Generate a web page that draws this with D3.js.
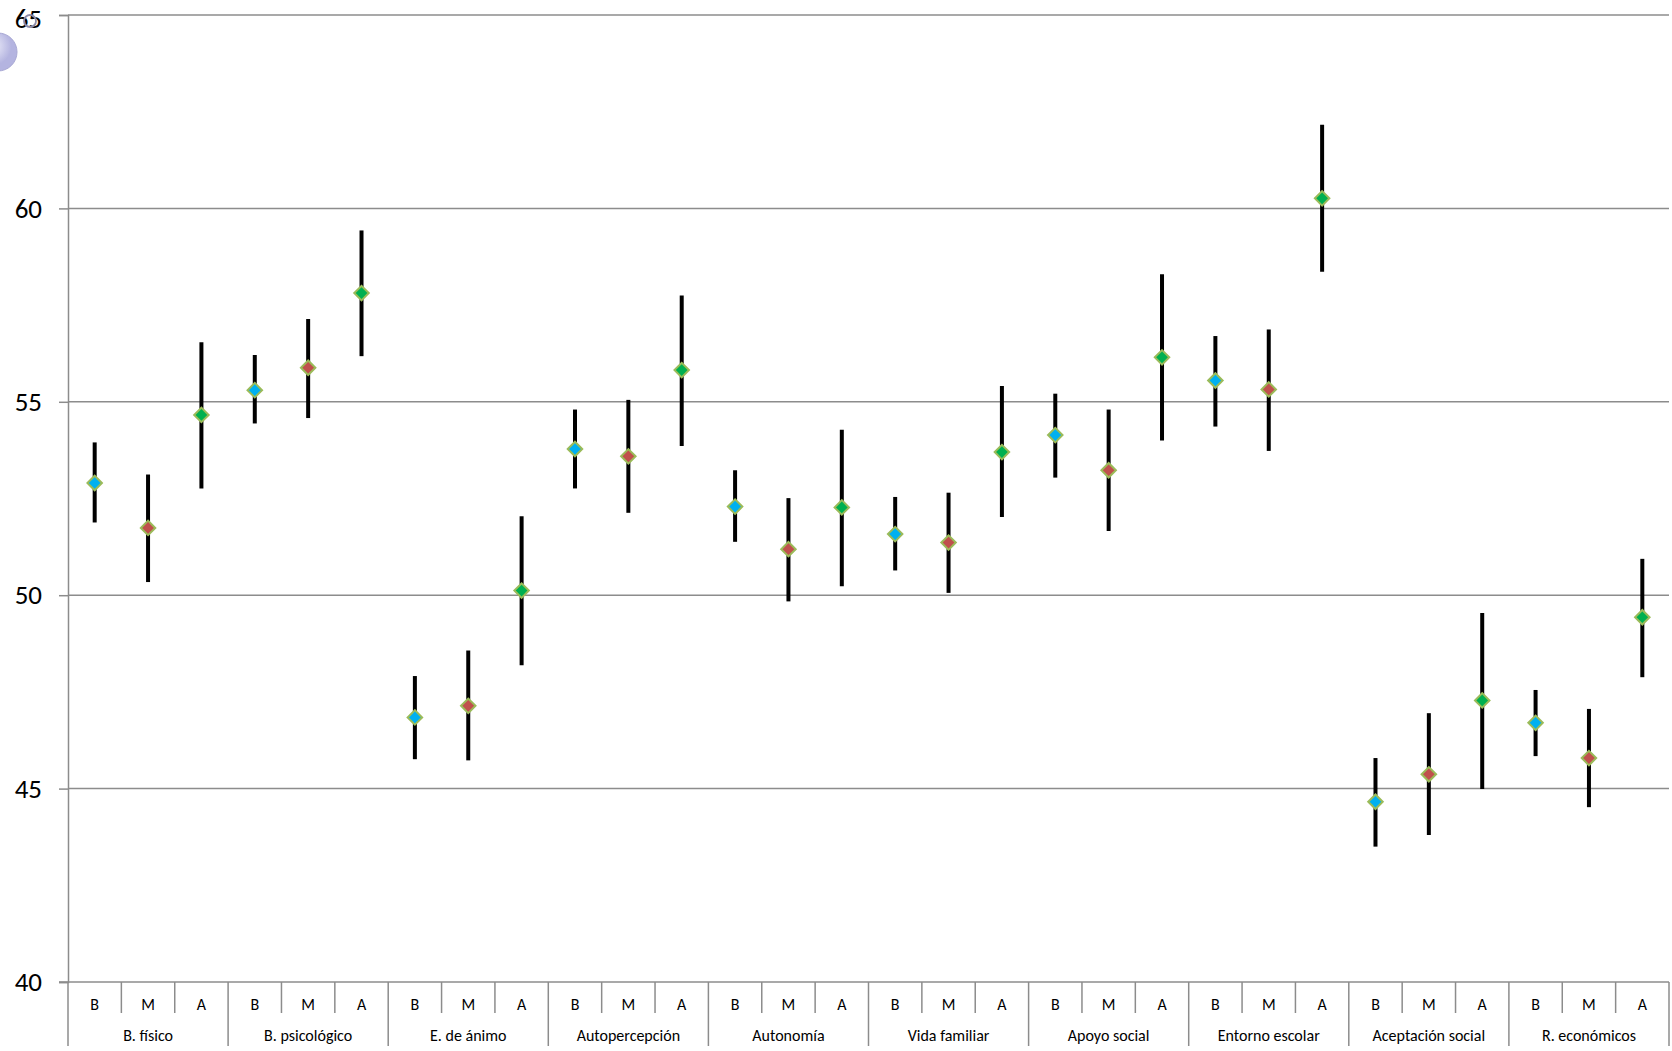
<!DOCTYPE html>
<html>
<head>
<meta charset="utf-8">
<script src="https://cdn.jsdelivr.net/npm/d3@7"></script>
<style>
  html, body { margin: 0; padding: 0; background: #fff; }
  svg { display: block; font-family: Carlito, Lato, "Open Sans", sans-serif; }
</style>
</head>
<body>
<svg id="chart" width="1672" height="1051"></svg>
<script>
// ---- data ----
const groups = ["B. físico", "B. psicológico", "E. de ánimo", "Autopercepción", "Autonomía",
                "Vida familiar", "Apoyo social", "Entorno escolar", "Aceptación social", "R. económicos"];
const levels = ["B", "M", "A"];
const means = [
  [52.90, 51.74, 54.66],
  [55.30, 55.88, 57.81],
  [46.84, 47.14, 50.12],
  [53.78, 53.59, 55.82],
  [52.29, 51.19, 52.27],
  [51.58, 51.36, 53.70],
  [54.14, 53.23, 56.15],
  [55.55, 55.32, 60.26],
  [44.66, 45.37, 47.28],
  [46.70, 45.79, 49.43]
];
const upper = [
  [53.95, 53.12, 56.54],
  [56.21, 57.14, 59.43],
  [47.91, 48.57, 52.04],
  [54.80, 55.05, 57.75],
  [53.23, 52.51, 54.28],
  [52.54, 52.65, 55.41],
  [55.21, 54.80, 58.30],
  [56.70, 56.87, 62.16],
  [45.79, 46.95, 49.54],
  [47.55, 47.06, 50.94]
];
const lower = [
  [51.88, 50.34, 52.76],
  [54.44, 54.58, 56.18],
  [45.76, 45.73, 48.19],
  [52.76, 52.13, 53.86],
  [51.38, 49.84, 50.23],
  [50.64, 50.06, 52.02],
  [53.04, 51.66, 54.00],
  [54.36, 53.73, 58.36],
  [43.50, 43.80, 44.99],
  [45.84, 44.52, 47.88]
];
const yTicks = [40, 45, 50, 55, 60, 65];
const levelColors = { B: "#00b0f0", M: "#c0504d", A: "#00b050" };

// ---- layout ----
const L = 68, R = 1669, T = 15, B = 982;
const svg = d3.select("#chart");

const slots = [];
groups.forEach((g, gi) => levels.forEach((lv, li) => slots.push({
  key: g + "|" + lv, group: g, level: lv, mean: means[gi][li], hi: upper[gi][li], lo: lower[gi][li]
})));

const x = d3.scaleBand().domain(slots.map(d => d.key)).range([L, R]).paddingInner(0).paddingOuter(0);
const y = d3.scaleLinear().domain([40, 65]).range([B, T]);
const gray = "#8c8c8c";

// decorative artefacts top-left
svg.append("defs").append("radialGradient").attr("id", "bub").attr("cx", "35%").attr("cy", "35%")
  .selectAll("stop").data([["0%", "#f0f0fb"], ["100%", "#b4b4e0"]]).join("stop")
  .attr("offset", d => d[0]).attr("stop-color", d => d[1]);
svg.append("circle").attr("cx", -2).attr("cy", 52).attr("r", 19).attr("fill", "url(#bub)").attr("stroke", "#a8a8d4");

// gridlines
svg.append("g").selectAll("line").data(yTicks.filter(t => t > 40)).join("line")
  .attr("x1", L).attr("x2", R).attr("y1", d => y(d)).attr("y2", d => y(d))
  .attr("stroke", gray).attr("stroke-width", 1.5);

// y axis
const yAxis = svg.append("g").attr("transform", `translate(${L},0)`)
  .call(d3.axisLeft(y).tickValues(yTicks).tickSize(9).tickPadding(17).tickFormat(d3.format("d")));
yAxis.select(".domain").attr("stroke", gray).attr("stroke-width", 1.5);
yAxis.selectAll(".tick line").attr("stroke", gray).attr("stroke-width", 1.5);
yAxis.selectAll(".tick text").attr("font-size", 27).attr("fill", "#000")
  .attr("font-family", "Carlito, Lato, 'Open Sans', sans-serif")
  .attr("dy", d => d === 65 ? "0.45em" : "0.32em");

svg.append("circle").attr("cx", 30).attr("cy", 21).attr("r", 6).attr("fill", "none")
  .attr("stroke", "#8a8aa8").attr("stroke-width", 1.8);

// x axis baseline
svg.append("line").attr("x1", L - 9).attr("x2", R).attr("y1", B).attr("y2", B)
  .attr("stroke", gray).attr("stroke-width", 1.5);

// slot separators
const bounds = d3.range(slots.length + 1).map(i => L + i * x.bandwidth());
svg.append("g").selectAll("line").data(bounds).join("line")
  .attr("x1", d => d).attr("x2", d => d).attr("y1", B)
  .attr("y2", (d, i) => (i % 3 === 0 ? 1046 : 1013))
  .attr("stroke", gray).attr("stroke-width", 1.5);

// level labels
svg.append("g").selectAll("text").data(slots).join("text")
  .attr("x", d => x(d.key) + x.bandwidth() / 2).attr("y", 1010)
  .attr("text-anchor", "middle").attr("font-size", 16).attr("font-weight", 400).attr("fill", "#000")
  .text(d => d.level);

// group labels
svg.append("g").selectAll("text").data(groups).join("text")
  .attr("x", g => x(g + "|M") + x.bandwidth() / 2).attr("y", 1041)
  .attr("text-anchor", "middle").attr("font-size", 16).attr("font-weight", 400).attr("fill", "#000")
  .text(g => g);

// error bars
svg.append("g").selectAll("line").data(slots).join("line")
  .attr("x1", d => x(d.key) + x.bandwidth() / 2).attr("x2", d => x(d.key) + x.bandwidth() / 2)
  .attr("y1", d => y(d.hi)).attr("y2", d => y(d.lo))
  .attr("stroke", "#000").attr("stroke-width", 4);

// markers
svg.append("g").selectAll("path").data(slots).join("path")
  .attr("d", d3.symbol().type(d3.symbolSquare).size(105))
  .attr("transform", d => `translate(${x(d.key) + x.bandwidth() / 2},${y(d.mean)}) rotate(45)`)
  .attr("fill", d => levelColors[d.level])
  .attr("stroke", "#9bbb59").attr("stroke-width", 2);
</script>
</body>
</html>
